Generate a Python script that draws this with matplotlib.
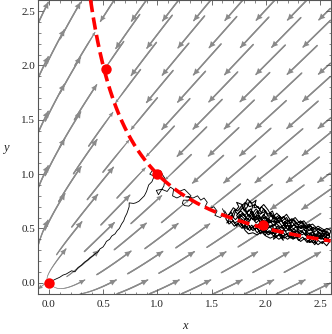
import numpy as np
import matplotlib
matplotlib.use("Agg")
import matplotlib.pyplot as plt
from matplotlib.collections import LineCollection

# ---------------- data ----------------
point_x = [0.0, 0.53, 1.0, 1.97]
point_y = [0.0, 1.97, 1.0, 0.53]

# random-walk trace, hand-read (x, y) pairs
walk_approach = [
    (0.0, 0.0), (0.056, 0.03), (0.10, 0.05), (0.13, 0.07), (0.16, 0.08), (0.21, 0.11), (0.24, 0.10),
    (0.27, 0.14), (0.30, 0.16), (0.33, 0.19), (0.36, 0.21), (0.38, 0.23), (0.41, 0.25), (0.43, 0.27),
    (0.45, 0.28), (0.47, 0.31), (0.50, 0.33), (0.52, 0.36), (0.53, 0.38), (0.56, 0.40), (0.58, 0.43),
    (0.61, 0.45), (0.63, 0.48), (0.65, 0.50), (0.67, 0.54), (0.69, 0.57), (0.70, 0.60), (0.72, 0.64),
    (0.73, 0.67), (0.74, 0.70), (0.74, 0.735), (0.78, 0.73), (0.80, 0.735), (0.83, 0.75), (0.85, 0.77),
    (0.88, 0.80), (0.90, 0.84), (0.92, 0.90), (0.95, 0.93), (0.97, 0.98), (0.93, 1.00), (0.96, 1.04),
    (0.99, 1.01), (1.03, 1.03), (1.05, 0.99), (1.07, 0.96), (1.06, 0.89), (1.01, 0.81), (0.99, 0.85),
    (1.04, 0.86), (1.09, 0.84), (1.12, 0.88), (1.15, 0.86), (1.14, 0.80), (1.18, 0.78), (1.22, 0.80),
    (1.20, 0.84), (1.25, 0.86), (1.28, 0.83), (1.31, 0.80), (1.29, 0.76), (1.24, 0.76), (1.23, 0.73),
    (1.25, 0.71), (1.29, 0.705), (1.32, 0.73), (1.32, 0.77), (1.29, 0.795), (1.26, 0.79), (1.33, 0.78),
    (1.37, 0.80), (1.40, 0.76), (1.43, 0.78), (1.46, 0.74), (1.44, 0.70), (1.48, 0.68), (1.52, 0.70),
    (1.55, 0.66), (1.53, 0.62), (1.58, 0.60), (1.62, 0.64), (1.60, 0.68),
]
walk_cluster = [
    (1.62, 0.66), (1.65, 0.61), (1.68, 0.65), (1.70, 0.60), (1.72, 0.66), (1.75, 0.70), (1.73, 0.74),
    (1.78, 0.72), (1.80, 0.66), (1.83, 0.70), (1.85, 0.75), (1.88, 0.71), (1.86, 0.64), (1.90, 0.60),
    (1.93, 0.65), (1.96, 0.70), (1.99, 0.66), (2.02, 0.61), (2.05, 0.64), (2.08, 0.59), (2.12, 0.62),
    (2.15, 0.57), (2.19, 0.60), (2.22, 0.55), (2.26, 0.58), (2.30, 0.53), (2.34, 0.56), (2.37, 0.50),
    (2.41, 0.52), (2.45, 0.47), (2.49, 0.50), (2.53, 0.45), (2.57, 0.47), (2.59, 0.42),
    (2.55, 0.40), (2.52, 0.36), (2.48, 0.39), (2.45, 0.35), (2.41, 0.40), (2.38, 0.37), (2.34, 0.42),
    (2.30, 0.39), (2.27, 0.44), (2.23, 0.41), (2.19, 0.45), (2.15, 0.42), (2.11, 0.47), (2.07, 0.43),
    (2.03, 0.48), (1.99, 0.44), (1.95, 0.49), (1.92, 0.46), (1.88, 0.51), (1.85, 0.48), (1.81, 0.53),
    (1.78, 0.50), (1.74, 0.55), (1.71, 0.52), (1.67, 0.57), (1.64, 0.55),
    (1.68, 0.62), (1.72, 0.58), (1.76, 0.63), (1.80, 0.59), (1.84, 0.56), (1.87, 0.60), (1.91, 0.55),
    (1.94, 0.58), (1.97, 0.53), (2.01, 0.56), (2.04, 0.51), (2.08, 0.54), (2.11, 0.49), (2.15, 0.52),
    (2.18, 0.47), (2.22, 0.50), (2.26, 0.45), (2.29, 0.48), (2.33, 0.44), (2.37, 0.46), (2.40, 0.42),
    (2.44, 0.44), (2.48, 0.41), (2.52, 0.43),
    (2.48, 0.47), (2.44, 0.51), (2.40, 0.48), (2.36, 0.53), (2.32, 0.50), (2.28, 0.55), (2.24, 0.52),
    (2.20, 0.58), (2.16, 0.55), (2.12, 0.60), (2.09, 0.56), (2.05, 0.62), (2.01, 0.58), (1.98, 0.63),
    (1.95, 0.59), (1.92, 0.66), (1.89, 0.62), (1.86, 0.68), (1.82, 0.64), (1.79, 0.69), (1.76, 0.66),
    (1.73, 0.62),
    (1.77, 0.55), (1.81, 0.50), (1.84, 0.53), (1.88, 0.48), (1.92, 0.51), (1.95, 0.45), (1.99, 0.48),
    (2.02, 0.44), (2.06, 0.47), (2.10, 0.43), (2.13, 0.45), (2.17, 0.41), (2.21, 0.44), (2.25, 0.40),
    (2.28, 0.42), (2.32, 0.38), (2.36, 0.41), (2.40, 0.37), (2.44, 0.39), (2.48, 0.35), (2.52, 0.38),
    (2.56, 0.34), (2.59, 0.38),
    (2.55, 0.43), (2.50, 0.46), (2.45, 0.43), (2.40, 0.45), (2.35, 0.49), (2.30, 0.46), (2.25, 0.50),
    (2.20, 0.53), (2.15, 0.50), (2.10, 0.54), (2.05, 0.57), (2.00, 0.54), (1.96, 0.57), (1.93, 0.53),
    (1.98, 0.50), (2.02, 0.53),
    (1.97, 0.55), (1.94, 0.62), (1.90, 0.57), (1.87, 0.66), (1.84, 0.61), (1.80, 0.71), (1.83, 0.77),
    (1.87, 0.73), (1.91, 0.76), (1.89, 0.69), (1.93, 0.70), (1.96, 0.64), (2.00, 0.66), (1.97, 0.60),
    (2.03, 0.58), (2.00, 0.52), (2.06, 0.50), (2.03, 0.45), (2.09, 0.46), (2.07, 0.40), (2.12, 0.44),
    (2.16, 0.39), (2.14, 0.47), (2.19, 0.51), (2.17, 0.56), (2.23, 0.54), (2.21, 0.48), (2.27, 0.47),
    (2.25, 0.41), (2.31, 0.42), (2.29, 0.50), (2.34, 0.52), (2.38, 0.49), (2.36, 0.44), (2.42, 0.43),
    (2.39, 0.38), (2.45, 0.37), (2.47, 0.42), (2.51, 0.40), (2.54, 0.45), (2.58, 0.43), (2.60, 0.48),
    (2.56, 0.50), (2.52, 0.47), (2.47, 0.50), (2.43, 0.54), (2.39, 0.52), (2.35, 0.57), (2.31, 0.55),
    (2.27, 0.60), (2.23, 0.57), (2.19, 0.63), (2.15, 0.59), (2.10, 0.64), (2.06, 0.60), (2.02, 0.67),
    (1.98, 0.72), (1.94, 0.68), (1.90, 0.72), (1.85, 0.70), (1.81, 0.74), (1.77, 0.70), (1.74, 0.66),
    (1.70, 0.69), (1.66, 0.63), (1.63, 0.59), (1.66, 0.54), (1.70, 0.57), (1.73, 0.52), (1.77, 0.58),
    (1.80, 0.55), (1.83, 0.49), (1.87, 0.53), (1.90, 0.49), (1.93, 0.54), (1.96, 0.50), (1.99, 0.46),
    (2.02, 0.50), (2.05, 0.53), (2.08, 0.49), (2.11, 0.52), (2.14, 0.48), (2.18, 0.44), (2.21, 0.46),
    (2.24, 0.43), (2.20, 0.40), (2.16, 0.43), (2.12, 0.40), (2.08, 0.43), (2.04, 0.41), (2.00, 0.43),
    (1.96, 0.47), (1.92, 0.44), (1.88, 0.46), (1.84, 0.45), (1.81, 0.48), (1.78, 0.53), (1.75, 0.60),
    (1.78, 0.64), (1.82, 0.60), (1.85, 0.57), (1.88, 0.62), (1.92, 0.60), (1.95, 0.55), (1.99, 0.58),
    (2.03, 0.55), (2.07, 0.57), (2.11, 0.55), (2.14, 0.57), (2.18, 0.53), (2.22, 0.51), (2.26, 0.53),
    (2.30, 0.49), (2.33, 0.47), (2.37, 0.44), (2.41, 0.46), (2.44, 0.41), (2.48, 0.44), (2.52, 0.42),
    (2.55, 0.38), (2.58, 0.40),
    (2.56, 0.41), (2.51, 0.44), (2.46, 0.40), (2.42, 0.49), (2.37, 0.47), (2.33, 0.53), (2.29, 0.51),
    (2.24, 0.56), (2.20, 0.49), (2.16, 0.54), (2.13, 0.61), (2.09, 0.58), (2.06, 0.66), (2.02, 0.63),
    (1.98, 0.68), (1.95, 0.63), (1.91, 0.68), (1.88, 0.64), (1.84, 0.67), (1.81, 0.62), (1.77, 0.66),
    (1.74, 0.63), (1.71, 0.67), (1.68, 0.60), (1.71, 0.55), (1.75, 0.57), (1.79, 0.51), (1.83, 0.55),
    (1.86, 0.50), (1.90, 0.53), (1.94, 0.47), (1.97, 0.51), (2.01, 0.47), (2.05, 0.45), (2.09, 0.50),
    (2.13, 0.46), (2.17, 0.49), (2.21, 0.42), (2.26, 0.47), (2.30, 0.44), (2.34, 0.47), (2.38, 0.42),
    (2.43, 0.47), (2.46, 0.44), (2.50, 0.49), (2.54, 0.47), (2.57, 0.44), (2.53, 0.40), (2.49, 0.42),
    (2.45, 0.45), (2.41, 0.50), (2.37, 0.52), (2.33, 0.50), (2.28, 0.52), (2.24, 0.48), (2.19, 0.55),
    (2.15, 0.52), (2.11, 0.57), (2.07, 0.52), (2.03, 0.59), (1.99, 0.55), (1.95, 0.60), (1.91, 0.58),
    (1.87, 0.63), (1.83, 0.58), (1.79, 0.63), (1.76, 0.60), (1.80, 0.57), (1.84, 0.63), (1.88, 0.58),
    (1.92, 0.62), (1.96, 0.58), (2.00, 0.61), (2.04, 0.56), (2.08, 0.61), (2.12, 0.57), (2.16, 0.61),
    (2.20, 0.56), (2.24, 0.59), (2.28, 0.54), (2.32, 0.57), (2.36, 0.51), (2.40, 0.54), (2.44, 0.49),
    (2.48, 0.52), (2.53, 0.49), (2.58, 0.45),
]

x_ticks = [0.0, 0.5, 1.0, 1.5, 2.0, 2.5]
y_ticks = [0.0, 0.5, 1.0, 1.5, 2.0, 2.5]
x_label = "x"
y_label = "y"

XMIN, XMAX = -0.1, 2.597
YMIN, YMAX = -0.104, 2.603
MIX = 0.5


def field(x, y):
    s = 1.0 - x * y
    return s * (x + MIX * y), s * (y + MIX * x)


def trace(x0, y0, direction, length, h=0.006):
    pts = [(x0, y0)]
    x, y = x0, y0
    sgn = np.sign(1 - x0 * y0)
    L = 0.0
    while L < length:
        u, v = field(x, y)
        n = np.hypot(u, v)
        if n < 1e-9:
            break
        ex, ey = direction * u / n * h, direction * v / n * h
        u2, v2 = field(x + ex / 2, y + ey / 2)
        n2 = np.hypot(u2, v2)
        if n2 < 1e-9:
            break
        x, y = x + direction * u2 / n2 * h, y + direction * v2 / n2 * h
        if np.sign(1 - x * y) != sgn or np.abs(1 - x * y) < 0.01:
            break
        if not (XMIN < x < XMAX and YMIN < y < YMAX):
            break
        pts.append((x, y))
        L += h
    return pts


fig = plt.figure(figsize=(3.32, 3.34), dpi=100)
ax = fig.add_axes([38 / 332, 40 / 334, 293 / 332, 294 / 334])
ax.set_xlim(XMIN, XMAX)
ax.set_ylim(YMIN, YMAX)

gray = "#8a8a8a"
sp = 0.29
row = 0
ys = np.arange(-0.02, 2.62, sp * 0.866)
for yy in ys:
    off = (sp / 2) if row % 2 else 0.0
    row += 1
    for xx in np.arange(-0.05 + off, 2.62, sp):
        if abs(1 - xx * yy) < 0.03:
            continue
        back = trace(xx, yy, -1, 0.28)
        fwd = trace(xx, yy, 1, 0.10)
        pts = np.array(back[::-1] + fwd[1:])
        if len(pts) < 6:
            continue
        u, v = field(pts[:, 0], pts[:, 1])
        spd = np.hypot(u, v)
        f = np.clip(spd / 0.6, 0, 1) ** 0.6
        segs = np.stack([pts[:-1], pts[1:]], axis=1)
        lws = 0.3 + 0.75 * f[:-1]
        lc = LineCollection(segs, colors=gray, linewidths=lws, capstyle="round", zorder=1)
        ax.add_collection(lc)
        fe = f[-1]
        ax.annotate("", xy=pts[-1], xytext=pts[-4],
                    arrowprops=dict(arrowstyle="-|>", color=gray, lw=0,
                                    mutation_scale=4.5 + 6.5 * fe, shrinkA=0, shrinkB=0),
                    zorder=1)

ax.plot([p[0] for p in walk_approach], [p[1] for p in walk_approach],
        color="black", lw=0.6, zorder=2)
ax.plot([p[0] for p in walk_cluster], [p[1] for p in walk_cluster],
        color="black", lw=0.75, zorder=2)

cx = np.linspace(1 / YMAX, XMAX, 400)
ax.plot(cx, 1 / cx, color="red", lw=2.6, dashes=(3.4, 1.5), zorder=3)
ax.plot(point_x, point_y, "o", color="red", ms=7.5, mec="none", zorder=4)

ax.set_xticks(x_ticks)
ax.set_yticks(y_ticks)
ax.set_xticks(np.arange(-0.1, 2.61, 0.1), minor=True)
ax.set_yticks(np.arange(-0.1, 2.61, 0.1), minor=True)
ax.set_xticklabels([f"{t:.1f}" for t in x_ticks])
ax.set_yticklabels([f"{t:.1f}" for t in y_ticks])
ax.tick_params(which="both", direction="in", top=True, right=True, color="#555555",
               labelsize=8, labelcolor="#222222")
ax.tick_params(which="major", length=3.5, width=0.6)
ax.tick_params(which="minor", length=1.8, width=0.5)
ax.tick_params(axis="x", pad=4)
ax.tick_params(axis="y", pad=2)
for lab in ax.get_xticklabels() + ax.get_yticklabels():
    lab.set_family("Liberation Serif")
for s in ax.spines.values():
    s.set_color("#555555")
    s.set_linewidth(0.8)

fig.text(185 / 332, 1 - 326 / 334, x_label, family="Liberation Serif", style="italic",
         fontsize=9, ha="center", va="center", color="#222222")
fig.text(6 / 332, 1 - 148 / 334, y_label, family="Liberation Serif", style="italic",
         fontsize=9, ha="center", va="center", color="#222222")

fig.savefig("out.png", dpi=100)
